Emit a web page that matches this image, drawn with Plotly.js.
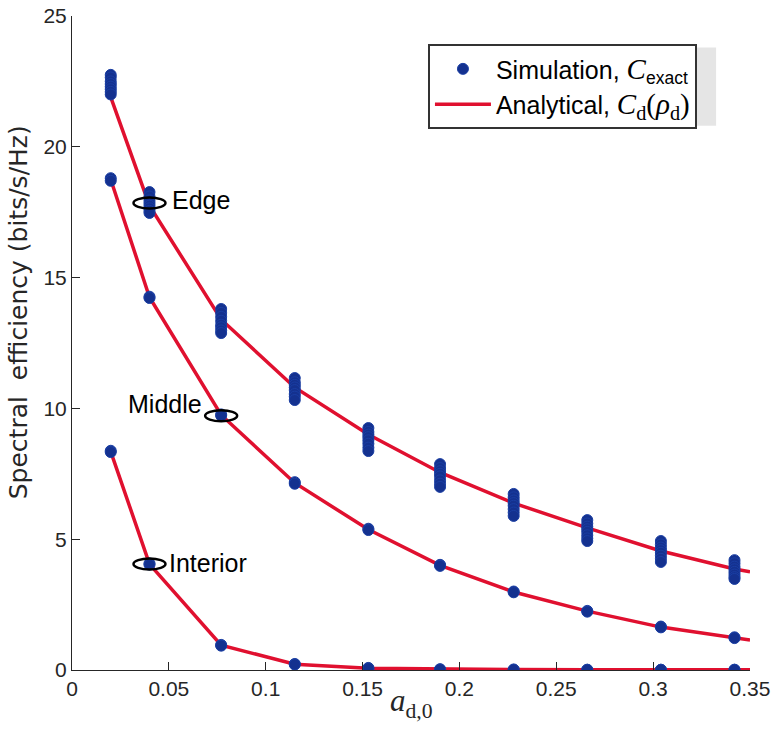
<!DOCTYPE html>
<html>
<head>
<meta charset="utf-8">
<script src="https://cdn.plot.ly/plotly-3.0.1.min.js"></script>
<style>html,body{margin:0;padding:0;background:#fff;}#chart{width:774px;height:746px;}</style>
</head>
<body>
<div id="chart"></div>
<script>
// ---- data ----
const simX = [0.02, 0.04, 0.077, 0.115, 0.153, 0.19, 0.228, 0.266, 0.304, 0.342];

const edgeSim = [
  [22.75, 22.65, 22.5, 22.4, 22.3, 22.2, 22.1, 22.0],
  [18.27, 18.1, 17.95, 17.85, 17.75, 17.65, 17.55, 17.47],
  [13.8, 13.65, 13.5, 13.35, 13.2, 13.1, 12.98, 12.88],
  [11.16, 11.0, 10.9, 10.8, 10.7, 10.55, 10.45, 10.32],
  [9.25, 9.1, 9.0, 8.9, 8.78, 8.65, 8.5, 8.37],
  [7.87, 7.72, 7.6, 7.5, 7.4, 7.25, 7.12, 7.0],
  [6.73, 6.6, 6.48, 6.38, 6.28, 6.15, 6.02, 5.89],
  [5.73, 5.6, 5.48, 5.38, 5.28, 5.15, 5.03, 4.93],
  [4.93, 4.8, 4.68, 4.58, 4.48, 4.37, 4.25, 4.13],
  [4.2, 4.08, 3.95, 3.85, 3.75, 3.65, 3.55, 3.48]
];
const middleSim = [
  [18.8, 18.7], [14.27, 14.22], [9.77, 9.72], [7.18, 7.12], [5.4, 5.35],
  [4.02, 3.98], [3.0, 2.97], [2.26, 2.23], [1.66, 1.63], [1.25, 1.22]
];
const interiorSim = [
  [8.38, 8.33], [4.07, 4.03], [0.96, 0.93], [0.23, 0.21], [0.08, 0.06],
  [0.03, 0.02], [0.02, 0.01], [0.01, 0.01], [0.01, 0.01], [0.01, 0.01]
];

const anaX = [0.02, 0.04, 0.077, 0.115, 0.153, 0.19, 0.228, 0.266, 0.304, 0.342, 0.35];
const edgeAna = [21.9, 17.75, 13.4, 10.8, 9.0, 7.55, 6.38, 5.43, 4.55, 3.86, 3.75];
const middleAna = [18.75, 14.25, 9.75, 7.15, 5.37, 4.0, 2.98, 2.25, 1.64, 1.23, 1.15];
const interiorAna = [8.35, 4.05, 0.95, 0.22, 0.07, 0.03, 0.02, 0.01, 0.01, 0.01, 0.01];

const xTickVals = [0, 0.05, 0.1, 0.15, 0.2, 0.25, 0.3, 0.35];
const xTickText = ['0', '0.05', '0.1', '0.15', '0.2', '0.25', '0.3', '0.35'];
const yTickVals = [0, 5, 10, 15, 20, 25];

const regionLabels = ['Edge', 'Middle', 'Interior'];
const regionX = [0.04, 0.077, 0.04];
const regionY = [17.85, 9.72, 4.05];

// ---- build traces ----
const lineColor = '#e0102f';
const dotColor = '#14318f';
const serif = 'Liberation Serif, DejaVu Serif, serif';
const sans = 'Liberation Sans, Arial, sans-serif';
const mathSpan = (s) => '<span style="font-family:' + serif + ';font-size:29px">' + s + '</span>';

function flatten(xs, groups) {
  const x = [], y = [];
  groups.forEach((g, i) => g.forEach(v => { x.push(xs[i]); y.push(v); }));
  return {x, y};
}

const traces = [];
[edgeAna, middleAna, interiorAna].forEach((ys, i) => {
  traces.push({
    x: anaX, y: ys, type: 'scatter', mode: 'lines',
    line: {color: lineColor, width: 3.5},
    name: 'Analytical, ' + mathSpan('<i>C</i><sub>d</sub>(<i>ρ</i><sub>d</sub>)'),
    legendgroup: 'ana', showlegend: i === 0, legendrank: 2
  });
});
[edgeSim, middleSim, interiorSim].forEach((g, i) => {
  const f = flatten(simX, g);
  traces.push({
    x: f.x, y: f.y, type: 'scatter', mode: 'markers',
    marker: {color: dotColor, size: 11, line: {color: '#1a3ea3', width: 1}},
    name: 'Simulation, ' + mathSpan('<i>C</i>') + '<sub>exact</sub>',
    legendgroup: 'sim', showlegend: i === 0, legendrank: 1
  });
});

// ring shapes & labels
const shapes = regionLabels.map((_, i) => ({
  type: 'circle', xref: 'x', yref: 'y', layer: 'above',
  xsizemode: 'pixel', ysizemode: 'pixel',
  xanchor: regionX[i], yanchor: regionY[i],
  x0: -16, x1: 16, y0: -5.5, y1: 5.5,
  line: {color: '#000', width: 2.5}
}));
// legend drop shadow
shapes.push({type: 'rect', xref: 'paper', yref: 'paper', layer: 'above',
  x0: 0.531, x1: 0.950, y0: 0.832, y1: 0.952,
  fillcolor: 'rgba(0,0,0,0.10)', line: {width: 0}});

const labelShift = [[21, 3, 'left'], [-17, 12, 'right'], [18, 1, 'left']];
const annotations = regionLabels.map((t, i) => ({
  x: regionX[i], y: regionY[i], xref: 'x', yref: 'y', text: t, showarrow: false,
  xanchor: labelShift[i][2], yanchor: 'middle',
  xshift: labelShift[i][0], yshift: labelShift[i][1],
  font: {family: sans, size: 25, color: '#000'}
}));
// x-axis title (math) placed below tick labels
annotations.push({
  x: 0.5, y: 0, xref: 'paper', yref: 'paper', xanchor: 'center', yanchor: 'top',
  yshift: -11, showarrow: false,
  text: '<i>a</i><sub>d,0</sub>',
  font: {family: serif, size: 31, color: '#262626'}
});
// y-axis title
annotations.push({
  x: 0, y: 0.547, xref: 'paper', yref: 'paper', xanchor: 'center', yanchor: 'middle',
  xshift: -54, showarrow: false, textangle: -90,
  text: 'Spectral  efficiency (bits/s/Hz)',
  font: {family: 'DejaVu Sans, Liberation Sans, sans-serif', size: 25, color: '#262626'}
});

const axisCommon = {
  showline: true, linecolor: '#262626', linewidth: 1, mirror: false,
  ticks: 'inside', ticklen: 8, tickcolor: '#262626', tickwidth: 1,
  showgrid: false, zeroline: false
};

const layout = {
  width: 774, height: 746,
  margin: {l: 72, r: 24, t: 16, b: 76, pad: 0},
  paper_bgcolor: '#fff', plot_bgcolor: '#fff',
  showlegend: true,
  legend: {
    x: 0.525, y: 0.957, xanchor: 'left', yanchor: 'top',
    bgcolor: '#fff', bordercolor: '#333', borderwidth: 2,
    font: {family: sans, size: 25, color: '#000'},
    itemwidth: 56, tracegroupgap: 0
  },
  xaxis: Object.assign({}, axisCommon, {
    range: [0, 0.35], tickvals: xTickVals, ticktext: xTickText,
    tickfont: {family: sans, size: 21, color: '#262626'}
  }),
  yaxis: Object.assign({}, axisCommon, {
    range: [0, 25], tickvals: yTickVals,
    tickfont: {family: sans, size: 21, color: '#262626'}
  }),
  shapes: shapes,
  annotations: annotations
};

Plotly.newPlot('chart', traces, layout, {displayModeBar: false, staticPlot: true});
</script>
</body>
</html>
